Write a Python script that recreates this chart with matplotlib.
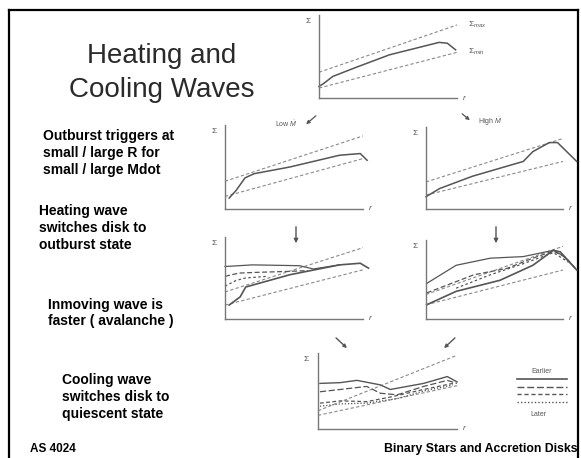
import matplotlib
matplotlib.use('Agg')
import matplotlib.pyplot as plt
from matplotlib.lines import Line2D

plt.rcParams['font.family'] = ['Liberation Sans', 'DejaVu Sans']
plt.rcParams['mathtext.fontset'] = 'custom'
plt.rcParams['mathtext.rm'] = 'Liberation Sans'
plt.rcParams['mathtext.it'] = 'Liberation Sans:italic'

W, H = 581, 458

# envelope lines (critical surface densities), r normalised to 0..1
env_r = [0, 1]
sigma_max = [0.32, 0.87]
sigma_min = [0.14, 0.58]

# top panel: quiescent profile
top_r = [0, 0.03, 0.1, 0.27, 0.51, 0.87, 0.93, 0.99]
top_sigma = [0.14, 0.17, 0.26, 0.37, 0.52, 0.67, 0.66, 0.58]

# low Mdot start
low_r = [0.03, 0.08, 0.145, 0.21, 0.47, 0.83, 0.98, 1.03]
low_sigma = [0.13, 0.22, 0.37, 0.42, 0.50, 0.64, 0.66, 0.58]

# high Mdot start
high_r = [0, 0.1, 0.34, 0.71, 0.78, 0.90, 0.96, 1.10]
high_sigma = [0.15, 0.25, 0.40, 0.58, 0.70, 0.81, 0.81, 0.58]

# inside-out heating wave profiles
inout_base_r = [0.03, 0.11, 0.15, 0.47, 0.83, 0.98, 1.04]
inout_base = [0.17, 0.27, 0.39, 0.54, 0.66, 0.68, 0.62]
inout_a_r = [0, 0.2, 0.54, 0.64, 0.83]
inout_a = [0.64, 0.66, 0.65, 0.61, 0.66]
inout_b_r = [0, 0.1, 0.25, 0.45, 0.6]
inout_b = [0.52, 0.56, 0.57, 0.58, 0.59]
inout_c_r = [0, 0.08, 0.15, 0.3]
inout_c = [0.40, 0.47, 0.50, 0.52]

# outside-in heating wave profiles
outin_base_r = [0.005, 0.22, 0.54, 0.78, 0.93, 0.98, 1.10]
outin_base = [0.18, 0.35, 0.49, 0.68, 0.87, 0.85, 0.62]
outin_a_r = [0.005, 0.22, 0.47, 0.71, 0.93, 1.0, 1.08]
outin_a = [0.45, 0.68, 0.77, 0.79, 0.87, 0.80, 0.66]
outin_b_r = [0.005, 0.35, 0.59, 0.78, 0.93, 1.02, 1.09]
outin_b = [0.33, 0.56, 0.64, 0.77, 0.86, 0.78, 0.64]
outin_c_r = [0.22, 0.47, 0.71, 0.93, 1.04]
outin_c = [0.39, 0.56, 0.70, 0.84, 0.72]

# cooling wave profiles (earlier -> later)
cool_sigma_max = [0.24, 0.97]
cool_sigma_min = [0.18, 0.57]
cool_1_r = [0.014, 0.16, 0.28, 0.45, 0.52, 0.76, 0.93, 1.0]
cool_1 = [0.60, 0.61, 0.64, 0.58, 0.52, 0.60, 0.69, 0.62]
cool_2_r = [0.014, 0.16, 0.35, 0.45, 0.57, 0.76, 0.93, 1.0]
cool_2 = [0.49, 0.52, 0.56, 0.47, 0.45, 0.56, 0.64, 0.60]
cool_3_r = [0.014, 0.16, 0.35, 0.52, 0.76, 0.97]
cool_3 = [0.34, 0.37, 0.36, 0.42, 0.52, 0.60]
cool_4_r = [0.014, 0.16, 0.35, 0.57, 0.76, 0.97]
cool_4 = [0.30, 0.33, 0.34, 0.40, 0.50, 0.58]

GREY = '#555555'
LGREY = '#8a8a8a'

fig = plt.figure(figsize=(W / 100, H / 100), dpi=100)
bg = fig.add_axes([0, 0, 1, 1])
bg.set_xlim(0, W)
bg.set_ylim(H, 0)
bg.axis('off')

# slide frame
bg.plot([9, 9], [10, H], color='black', lw=1.6)
bg.plot([9, 578], [10, 10], color='black', lw=1.6)
bg.plot([578, 578], [10, H], color='black', lw=1.6)


def panel(x0, y0, x1, ytop):
    ax = fig.add_axes([x0 / W, 1 - y0 / H, (x1 - x0) / W, (y0 - ytop) / H])
    ax.set_xlim(0, 1)
    ax.set_ylim(0, 1)
    ax.set_xticks([])
    ax.set_yticks([])
    ax.patch.set_alpha(0)
    for s in ['top', 'right']:
        ax.spines[s].set_visible(False)
    for s in ['left', 'bottom']:
        ax.spines[s].set_color('#777777')
        ax.spines[s].set_linewidth(1.0)
    ax.text(-0.08, 0.93, r'$\Sigma$', transform=ax.transAxes, fontsize=6,
            color=GREY, ha='center', va='center')
    ax.text(1.05, 0.0, 'r', transform=ax.transAxes, fontsize=6,
            color=GREY, ha='center', va='center', style='italic')
    return ax


def env(ax, smax=sigma_max, smin=sigma_min):
    ax.plot(env_r, smax, color=LGREY, lw=0.8, ls=(0, (3, 2)), clip_on=False)
    ax.plot(env_r, smin, color=LGREY, lw=0.8, ls=(0, (3, 2)), clip_on=False)


# top panel
ax = panel(319, 98, 457, 15)
env(ax, [0.31, 0.88], [0.12, 0.55])
ax.plot(top_r, top_sigma, color=GREY, lw=1.1, clip_on=False)
ax.text(1.08, 0.88, r'$\Sigma_{max}$', transform=ax.transAxes, fontsize=6, color=GREY, va='center')
ax.text(1.08, 0.55, r'$\Sigma_{min}$', transform=ax.transAxes, fontsize=6, color=GREY, va='center')

# low Mdot
ax = panel(225, 209, 363, 125)
env(ax, [0.33, 0.87], [0.15, 0.60])
ax.plot(low_r, low_sigma, color=GREY, lw=1.1, clip_on=False)

# high Mdot
ax = panel(426, 209, 563, 127)
env(ax, [0.33, 0.86], [0.17, 0.58])
ax.plot(high_r, high_sigma, color=GREY, lw=1.1, clip_on=False)

# inside-out heating wave
ax = panel(225, 319, 363, 237)
env(ax, [0.33, 0.87], [0.17, 0.60])
ax.plot(inout_base_r, inout_base, color=GREY, lw=1.2, clip_on=False)
ax.plot(inout_a_r, inout_a, color=GREY, lw=0.9, clip_on=False)
ax.plot(inout_b_r, inout_b, color=GREY, lw=0.9, ls=(0, (4, 2)), clip_on=False)
ax.plot(inout_c_r, inout_c, color=GREY, lw=0.9, ls=(0, (2, 2)), clip_on=False)

# outside-in heating wave
ax = panel(426, 319, 563, 240)
env(ax, [0.31, 0.92], [0.18, 0.62])
ax.plot(outin_base_r, outin_base, color=GREY, lw=1.2, clip_on=False)
ax.plot(outin_a_r, outin_a, color=GREY, lw=0.9, clip_on=False)
ax.plot(outin_b_r, outin_b, color=GREY, lw=0.9, ls=(0, (4, 2)), clip_on=False)
ax.plot(outin_c_r, outin_c, color=GREY, lw=0.9, ls=(0, (2, 2)), clip_on=False)

# cooling wave
ax = panel(318, 429, 457, 353)
env(ax, cool_sigma_max, cool_sigma_min)
ax.plot(cool_1_r, cool_1, color=GREY, lw=1.0, clip_on=False)
ax.plot(cool_2_r, cool_2, color=GREY, lw=0.9, ls=(0, (5, 2)), clip_on=False)
ax.plot(cool_3_r, cool_3, color=GREY, lw=0.9, ls=(0, (3, 2)), clip_on=False)
ax.plot(cool_4_r, cool_4, color=GREY, lw=0.9, ls=(0, (1, 1.5)), clip_on=False)

# legend: earlier -> later
handles = [Line2D([], [], color=GREY, lw=1.2),
           Line2D([], [], color=GREY, lw=1.0, ls=(0, (5, 2))),
           Line2D([], [], color=GREY, lw=1.0, ls=(0, (3, 2))),
           Line2D([], [], color=GREY, lw=1.0, ls=(0, (1, 1.5)))]
leg = fig.legend(handles=handles, labels=[''] * 4, title='Earlier', frameon=False,
                 loc='upper left', bbox_to_anchor=(514 / W, 1 - 365 / H),
                 fontsize=4, title_fontsize=5, handlelength=9.0, handletextpad=0,
                 labelspacing=0.45, borderpad=0)
leg.get_title().set_color(GREY)
bg.text(538, 414, 'Later', fontsize=5, color=GREY, ha='center', va='center')

# panel captions and arrows
bg.text(286, 124, r'Low $\dot{M}$', fontsize=5, color=GREY, ha='center', va='center')
bg.annotate('', xy=(304, 126), xytext=(318, 114),
            arrowprops=dict(arrowstyle='-|>', color=GREY, lw=0.9, mutation_scale=5))
bg.text(490, 122, r'High $\dot{M}$', fontsize=5, color=GREY, ha='center', va='center')
bg.annotate('', xy=(472, 122), xytext=(460, 112),
            arrowprops=dict(arrowstyle='-|>', color=GREY, lw=0.9, mutation_scale=5))
for xa in [296, 496]:
    bg.annotate('', xy=(xa, 246), xytext=(xa, 224),
                arrowprops=dict(arrowstyle='-|>', color=GREY, lw=1.0, mutation_scale=6))
bg.annotate('', xy=(349, 350), xytext=(334, 336),
            arrowprops=dict(arrowstyle='-|>', color=GREY, lw=1.0, mutation_scale=5))
bg.annotate('', xy=(442, 350), xytext=(457, 336),
            arrowprops=dict(arrowstyle='-|>', color=GREY, lw=1.0, mutation_scale=5))

# slide text
bg.text(162, 73, 'Heating and\nCooling Waves', fontsize=20, color='#2a2a2a',
        ha='center', va='center', linespacing=1.42)
bold = dict(fontsize=10, fontweight='bold', color='black', va='center', ha='left',
            linespacing=1.25)
bg.text(43, 153, 'Outburst triggers at\nsmall / large R for\nsmall / large Mdot', **bold)
bg.text(39, 228, 'Heating wave\nswitches disk to\noutburst state', **bold)
bg.text(48, 313, 'Inmoving wave is\nfaster ( avalanche )', **bold)
bg.text(62, 397, 'Cooling wave\nswitches disk to\nquiescent state', **bold)
bg.text(30, 449, 'AS 4024', fontsize=8.5, fontweight='bold', color='black', va='center')
bg.text(577, 449, 'Binary Stars and Accretion Disks', fontsize=8.8, fontweight='bold',
        color='black', va='center', ha='right')

fig.savefig('out.png', dpi=100)
